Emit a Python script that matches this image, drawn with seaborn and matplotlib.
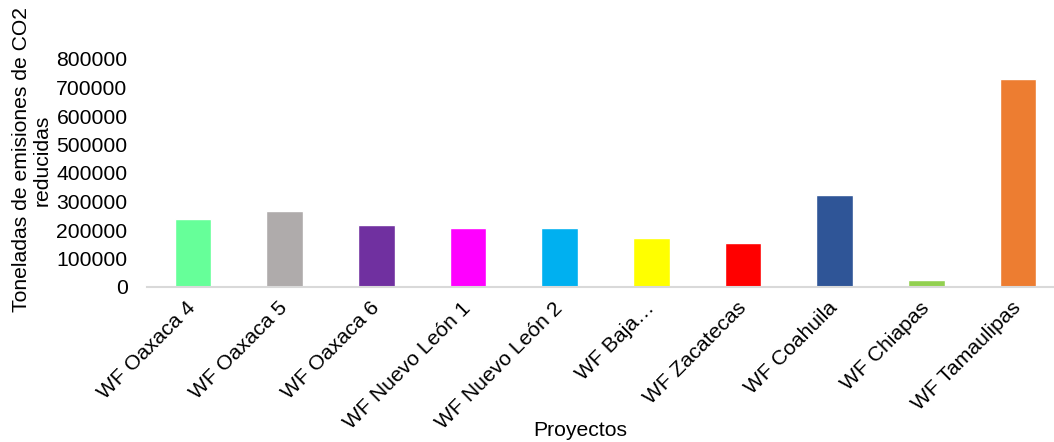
import matplotlib
matplotlib.use("Agg")
import matplotlib.pyplot as plt
import seaborn as sns
import pandas as pd

# Wind farm projects and their reduced CO2 emissions (tonnes)
proyectos = [
    "WF Oaxaca 4", "WF Oaxaca 5", "WF Oaxaca 6", "WF Nuevo León 1",
    "WF Nuevo León 2", "WF Baja…", "WF Zacatecas", "WF Coahuila",
    "WF Chiapas", "WF Tamaulipas",
]
toneladas = [238000, 267000, 217000, 207000, 207000,
             172000, 154000, 323000, 24500, 730000]
colores = ["#66FF99", "#AFABAB", "#7030A0", "#FF00FF", "#00B0F0",
           "#FFFF00", "#FF0000", "#2F5597", "#92D050", "#ED7D31"]
y_ticks = [0, 100000, 200000, 300000, 400000, 500000, 600000, 700000, 800000]

sns.set_theme(style="white")
plt.rcParams["font.family"] = ["Liberation Sans", "DejaVu Sans"]

FS = 15.2
W, H = 1054, 442
fig = plt.figure(figsize=(W / 100, H / 100), dpi=100)
x0, x1 = 147, 1064
y0, y1 = 287, 59
ax = fig.add_axes([x0 / W, 1 - y0 / H, (x1 - x0) / W, (y0 - y1) / H])

df = pd.DataFrame({"Proyecto": proyectos, "Toneladas": toneladas})
sns.barplot(data=df, x="Proyecto", y="Toneladas", hue="Proyecto",
            palette=colores, width=0.4, legend=False, ax=ax, saturation=1)

ax.set_ylim(0, 800000)
ax.set_xlim(-0.5, len(proyectos) - 0.5)
ax.set_yticks(y_ticks)
ax.set_yticklabels([str(v) for v in y_ticks], fontsize=FS, color="#000000")
ax.set_xticks(range(len(proyectos)))
ax.set_xticklabels(proyectos, fontsize=FS, color="#000000",
                   rotation=45, ha="right", va="center", rotation_mode="anchor")
ax.tick_params(axis="y", length=0, pad=14)
ax.tick_params(axis="x", length=0, pad=13)
ax.set_xlabel("")
ax.set_ylabel("")

for side in ["top", "right", "left"]:
    ax.spines[side].set_visible(False)
ax.spines["bottom"].set_color("#D9D9D9")
ax.spines["bottom"].set_linewidth(1.5)

fig.text(32 / W, 1 - 160 / H, "Toneladas de emisiones de CO2\nreducidas",
         rotation=90, ha="center", va="center", multialignment="center",
         fontsize=FS, color="#000000", linespacing=1.1)
fig.text(580 / W, 1 - 430 / H, "Proyectos", ha="center", va="center",
         fontsize=FS, color="#000000")

fig.savefig("out.png", dpi=100, facecolor="white")
